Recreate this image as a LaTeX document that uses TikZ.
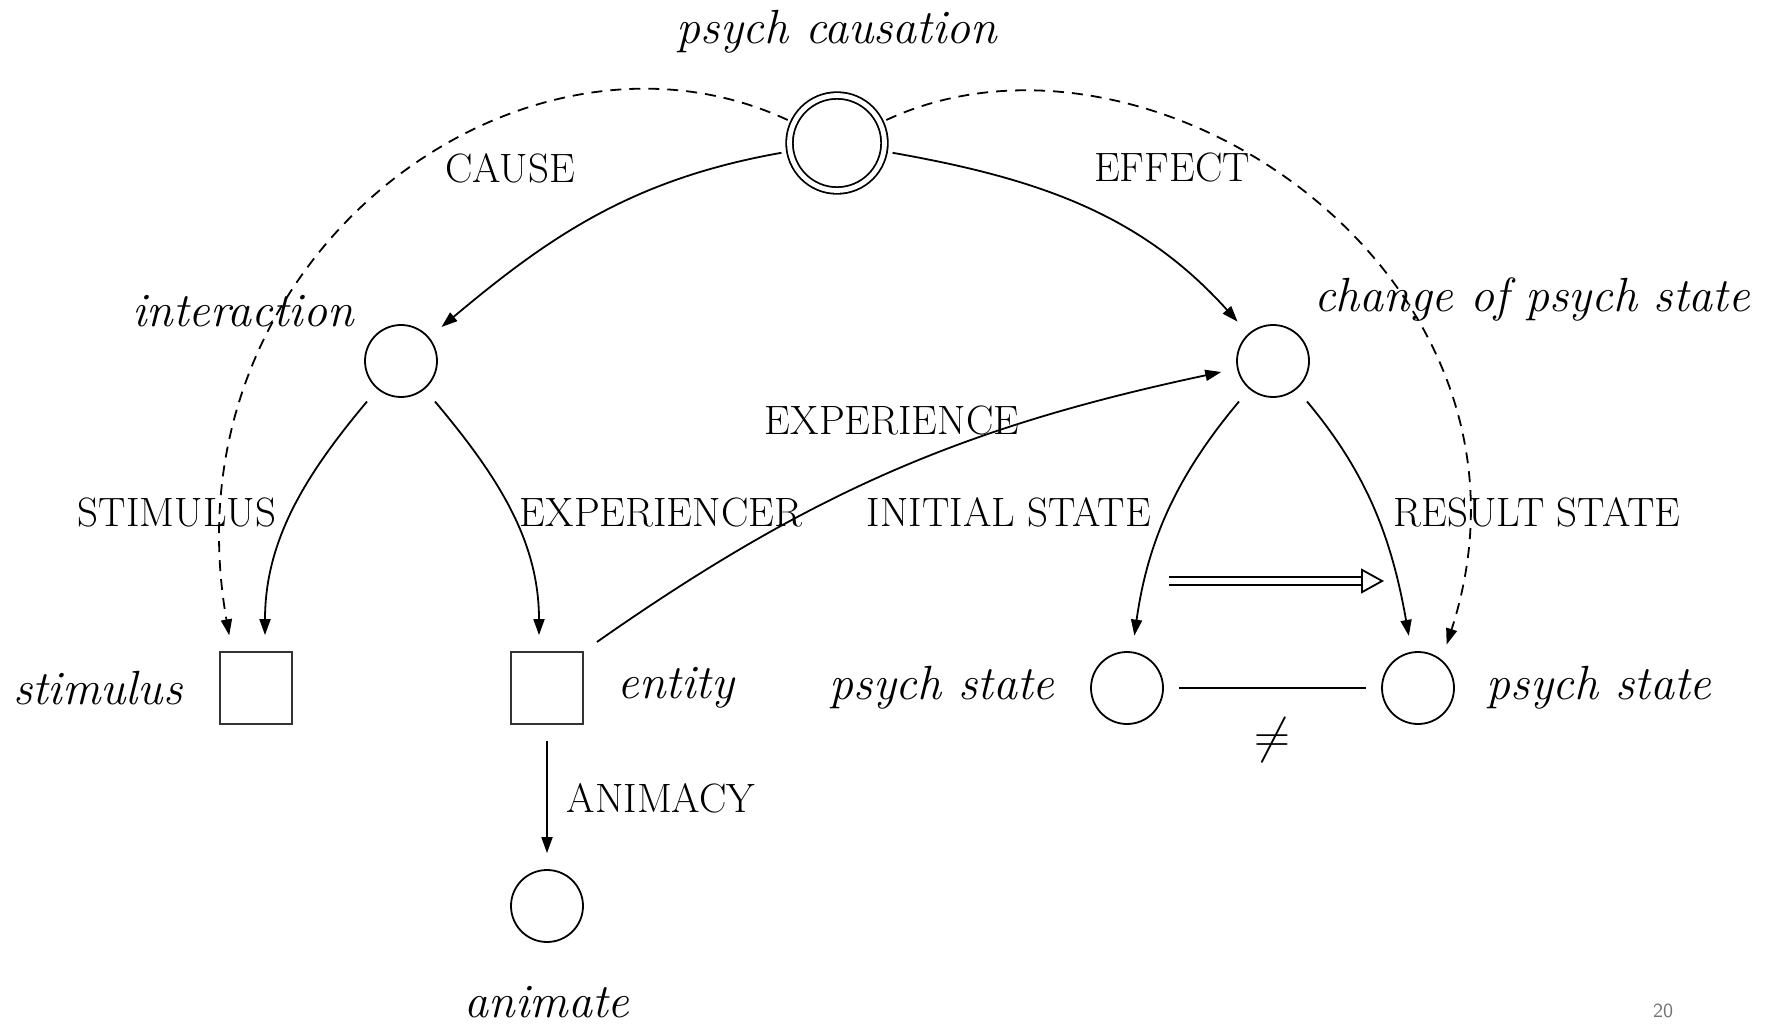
\documentclass[tikz,border=0pt]{standalone}
\usetikzlibrary{arrows.meta,positioning}

\begin{document}
\begin{tikzpicture}[
  x=0.5pt, y=0.5pt, line width=0.9pt,
  term/.style={font=\fontsize{24}{29}\selectfont\itshape, inner sep=1pt},
  role/.style={font=\fontsize{20.5}{24}\selectfont, inner sep=1pt},
  event/.style={circle, draw, minimum size=36pt, inner sep=0pt},
  root/.style={circle, draw, double, double distance=2.4pt, minimum size=47.5pt, inner sep=0pt},
  object/.style={rectangle, draw=black!80, minimum size=36pt, inner sep=0pt},
  arrow/.style={-{Triangle[length=8pt, width=5.5pt]}, shorten >=8pt, shorten <=8pt},
  link/.style={arrow, dash pattern=on 5.5pt off 4pt, shorten <=3pt},
  plain/.style={shorten >=7.5pt, shorten <=7.5pt}
]
  \useasboundingbox (0,0) rectangle (1771,-1026);

  \node[root] (causation) at (837,-143) {};
  \node[event] (interaction) at (401,-361) {};
  \node[event] (change) at (1273,-361) {};
  \node[object] (stimulus) at (256,-688) {};
  \node[object] (entity) at (547,-688) {};
  \node[event] (initstate) at (1127,-688) {};
  \node[event] (resultstate) at (1418,-688) {};
  \node[event] (animate) at (547,-906) {};

  \node[term, above=19pt of causation] (causationlab) {psych causation};
  \node[term] (interactionlab) at (243,-311) {interaction};
  \node[term] (changelab) at (1532,-300) {change of psych state};
  \node[term, left=17pt of stimulus] (stimuluslab) {stimulus};
  \node[term, right=15.5pt of entity] (entitylab) {entity};
  \node[term, left=16.5pt of initstate] (initstatelab) {psych state};
  \node[term, right=14.5pt of resultstate] (resultstatelab) {psych state};
  \node[term, below=20pt of animate] (animatelab) {animate};

  \node[role] (causelab) at (510,-168) {CAUSE};
  \node[role] (effectlab) at (1172,-168) {EFFECT};
  \node[role] (experiencelab) at (892,-420) {EXPERIENCE};
  \node[role] (stimulusrole) at (177,-512) {STIMULUS};
  \node[role] (experiencerrole) at (661,-512) {EXPERIENCER};
  \node[role] (initrole) at (1009,-512) {INITIAL STATE};
  \node[role] (resultrole) at (1537,-512) {RESULT STATE};
  \node[role] (animacylab) at (661,-798) {ANIMACY};
  \node[term, font=\fontsize{24}{29}\selectfont] (neq) at (1272,-740) {$\neq$};

  \draw[arrow, shorten <=4pt] (causation) to[out=190, in=40] (interaction);
  \draw[arrow, shorten <=4pt] (causation) to[out=-10, in=132] (change);
  \draw[arrow] (interaction) to[out=230, in=90] ([xshift=4.5pt]stimulus.north);
  \draw[arrow] (interaction) to[out=310, in=90] ([xshift=-4pt]entity.north);
  \draw[arrow] (entity.north east) to[out=35, in=192] (change);
  \draw[arrow] (change) to[out=230, in=82] (initstate);
  \draw[arrow] (change) to[out=310, in=100] (resultstate);
  \draw[arrow] (entity) -- (animate);
  \draw[plain] (initstate) -- (resultstate);

  \draw[link] (causation.155) .. controls +(155:150pt) and +(100:200pt) .. ([xshift=-12pt]stimulus.north);
  \draw[link] (causation.25) .. controls +(25:150pt) and +(72:200pt) .. (resultstate.50);

  \coordinate (shiftfrom) at (1169,-581);
  \coordinate (shiftto) at (1384,-581);
  \draw[double, double distance=3pt, -{Triangle[open, length=11.5pt, width=12.5pt]}] (shiftfrom) -- (shiftto);

  \node[font=\sffamily\fontsize{10}{12}\selectfont, text=black!55] (pagenum) at (1663,-1011) {20};
\end{tikzpicture}
\end{document}
